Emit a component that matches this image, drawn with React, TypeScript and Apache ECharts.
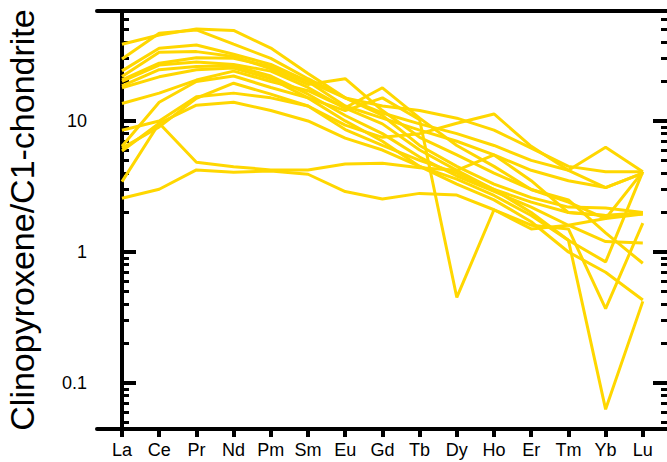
import React, { useEffect, useRef } from "react";
import * as echarts from "echarts";

const elements = ["La", "Ce", "Pr", "Nd", "Pm", "Sm", "Eu", "Gd", "Tb", "Dy", "Ho", "Er", "Tm", "Yb", "Lu"];
const majorTicks = [0.1, 1, 10];
const minorTicks = [0.05, 0.06, 0.07, 0.08, 0.09, 0.2, 0.3, 0.4, 0.5, 0.6, 0.7, 0.8, 0.9, 2, 3, 4, 5, 6, 7, 8, 9, 20, 30, 40, 50, 60];

const s1 = [38.5, 45.3, 50.4, 49, 36, 23, 15, 11.5, 9.5, 8.0, 6.5, 5.0, 4.2, 6.3, 4.1];
const s2 = [29.7, 46.7, 49.5, 38.5, 30, 21, 15, 13, 12, 10.5, 8.5, 6.2, 4.5, 4.1, 4.1];
const s3 = [24.1, 35.9, 38, 32.3, 27, 20, 13, 10.5, 8.5, 7, 5.5, 4.2, 3.5, 3.1, 4.0];
const s4 = [21.8, 33.4, 33.8, 31, 25, 19, 21, 12, 7.5, 5.5, 4.0, 3.0, 2.4, 1.8, 4.1];
const s5 = [20.6, 27.6, 30.4, 30.1, 26, 20, 15, 11, 6.5, 4.5, 3.3, 2.6, 2.2, 2.17, 2.0];
const s6 = [20, 26.7, 28.2, 27, 24, 18, 12.5, 9.5, 6.0, 4.2, 3.0, 2.4, 2.0, 1.9, 1.95];
const s7 = [18.5, 24.6, 26, 26.4, 22, 16, 11, 8, 5.3, 3.8, 2.9, 2.2, 1.6, 1.2, 1.17];
const s8 = [17.9, 21.7, 24.6, 25.3, 21, 15, 10, 7, 4.5, 3.3, 2.5, 1.7, 1.0, 0.7, 0.43];
const s9 = [13.6, 16.3, 20.5, 24, 20, 17, 12.6, 17.9, 10.5, 6.5, 4.5, 3.0, 2.5, 1.4, 0.82];
const s10 = [8.5, 10.0, 15.3, 16.3, 15, 13, 9.3, 7.5, 8.0, 9.6, 11.3, 6.4, 4.2, 3.1, 4.0];
const s11 = [6.4, 13.9, 20, 22, 18, 15, 12, 15, 10.2, 0.45, 2.1, 1.6, 1.5, 0.37, 1.66];
const s12 = [6.2, 9.0, 14.9, 19.4, 16, 13, 8.6, 6.5, 5.0, 4.0, 3.0, 2.0, 1.23, 0.84, 4.1];
const s13 = [5.9, 9.6, 13.2, 13.9, 12, 10, 7.4, 6, 4.5, 3.6, 2.7, 1.9, 1.23, 0.063, 0.42];
const s14 = [3.44, 9.6, 4.84, 4.48, 4.23, 4.23, 4.69, 4.75, 4.4, 4.2, 5.5, 3.5, 2.0, 1.9, 2.0];
const s15 = [2.57, 3.01, 4.23, 4.06, 4.15, 3.92, 2.89, 2.54, 2.8, 2.72, 2.1, 1.5, 1.6, 1.8, 1.95];

const allSeries = [s1, s2, s3, s4, s5, s6, s7, s8, s9, s10, s11, s12, s13, s14, s15];

const FONT = "'Liberation Sans', Arial, sans-serif";
const Y_MIN = 0.0446;
const Y_MAX = 69;

export default function App() {
  const ref = useRef<HTMLDivElement>(null);
  useEffect(() => {
    if (!ref.current) return;
    const chart = echarts.init(ref.current, null, { renderer: "svg" });
    const xBase = { type: "value", min: -0.672, max: 14.65, splitLine: { show: false } };
    const yBase = { type: "log", logBase: 10, min: Y_MIN, max: Y_MAX, splitLine: { show: false } };
    const fmt = (v: number) => String(parseFloat(Number(v).toPrecision(3)));
    chart.setOption({
      animation: false,
      backgroundColor: "#fff",
      grid: { left: 97, right: 0, top: 11, bottom: 33, containLabel: false, outerBoundsMode: "none" },
      xAxis: [
        {
          ...xBase,
          position: "bottom",
          axisLine: { show: true, lineStyle: { color: "#000", width: 4 } },
          axisTick: { show: true, inside: false, length: 8, lineStyle: { color: "#000", width: 4 }, customValues: elements.map((_, i) => i) },
          axisLabel: {
            show: true,
            customValues: elements.map((_, i) => i),
            formatter: (v: number) => elements[Math.round(v)] ?? "",
            fontSize: 18,
            color: "#000",
            fontFamily: FONT,
            margin: 12,
          },
        },
        {
          ...xBase,
          position: "top",
          axisLine: { show: true, onZero: false, lineStyle: { color: "#000", width: 4 } },
          axisTick: { show: false },
          axisLabel: { show: false },
        },
      ],
      yAxis: [
        {
          ...yBase,
          position: "left",
          name: "Clinopyroxene/C1-chondrite",
          nameLocation: "middle",
          nameGap: 58,
          nameTextStyle: { fontSize: 34, color: "#000", fontFamily: FONT },
          axisLine: { show: true, lineStyle: { color: "#000", width: 4 } },
          axisTick: { show: true, inside: true, length: 14, lineStyle: { color: "#000", width: 4 }, customValues: majorTicks },
          axisLabel: { show: true, customValues: majorTicks, formatter: fmt, fontSize: 18, color: "#000", fontFamily: FONT, margin: 10 },
        },
        {
          ...yBase,
          position: "left",
          axisLine: { show: false },
          axisTick: { show: true, inside: true, length: 7, lineStyle: { color: "#000", width: 3 }, customValues: minorTicks },
          axisLabel: { show: false },
        },
        {
          ...yBase,
          position: "right",
          axisLine: { show: false },
          axisTick: { show: true, inside: true, length: 14, lineStyle: { color: "#000", width: 4 }, customValues: majorTicks },
          axisLabel: { show: false },
        },
        {
          ...yBase,
          position: "right",
          axisLine: { show: false },
          axisTick: { show: true, inside: true, length: 6, lineStyle: { color: "#000", width: 3 }, customValues: minorTicks },
          axisLabel: { show: false },
        },
      ],
      series: allSeries.map((vals, k) => ({
        name: "s" + (k + 1),
        type: "line",
        xAxisIndex: 0,
        yAxisIndex: 0,
        data: vals.map((v, i) => [i, v]),
        symbol: "none",
        silent: true,
        lineStyle: { color: "#FFD700", width: 3 },
        z: 1,
      })),
    });
    return () => chart.dispose();
  }, []);
  return <div ref={ref} style={{ position: "fixed", left: 0, top: 0, width: 667, height: 462 }} />;
}
